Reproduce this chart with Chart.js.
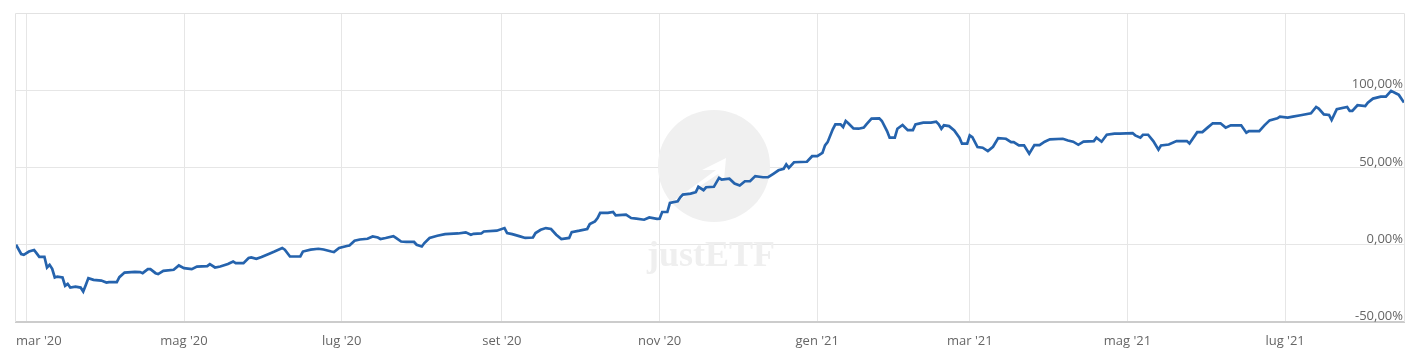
<!DOCTYPE html>
<html>
<head>
<meta charset="utf-8">
<script src="https://cdn.jsdelivr.net/npm/chart.js@4.4.1/dist/chart.umd.min.js"></script>
<style>
  html, body { margin: 0; padding: 0; background: #fff; }
  #wrap { width: 1420px; height: 359px; }
</style>
</head>
<body>
<div id="wrap"><canvas id="perfChart"></canvas></div>
<script>
// days since 1 Mar 2020
var days = [
    -4, -2, -1, 1, 3, 4, 5, 7, 8, 9, 10, 11, 12, 14, 15, 16, 17, 19, 21, 22, 23, 24, 26, 29, 31, 32, 35, 36, 38,
    42, 44, 45, 47, 48, 50, 51, 53, 57, 59, 61, 64, 66, 70, 71, 73, 75, 78, 80, 81, 84, 86, 87, 89, 91, 94, 96,
    99, 100, 102, 104, 106, 107, 110, 113, 115, 118, 119, 121, 124, 125, 127, 129, 132, 134, 136, 137, 139, 142,
    143, 145, 147, 150, 151, 153, 154, 156, 159, 162, 167, 170, 172, 173, 176, 177, 182, 185, 186, 188, 191, 193,
    196, 197, 199, 201, 203, 205, 207, 210, 211, 214, 217, 218, 220, 221, 222, 225, 227, 228, 232, 234, 236, 239,
    241, 244, 245, 246, 248, 249, 252, 253, 254, 257, 259, 260, 262, 263, 266, 268, 269, 272, 274, 276, 278, 280,
    282, 285, 287, 289, 291, 293, 294, 295, 297, 302, 304, 306, 308, 309, 310, 312, 313, 315, 316, 317, 318, 320,
    322, 324, 325, 327, 330, 331, 333, 334, 336, 337, 339, 341, 343, 344, 347, 350, 352, 353, 354, 355, 357, 359,
    361, 362, 364, 365, 366, 368, 370, 372, 374, 376, 379, 381, 382, 384, 386, 388, 390, 392, 394, 396, 401, 403,
    405, 407, 409, 413, 414, 416, 418, 421, 423, 428, 429, 431, 432, 434, 436, 438, 439, 442, 445, 449, 450, 453,
    455, 457, 459, 462, 464, 466, 470, 472, 473, 477, 479, 481, 484, 485, 488, 490, 493, 497, 499, 500, 502, 504,
    505, 507, 511, 512, 513, 515, 518, 519, 521, 524, 526, 528, 530, 531, 533
];
var values = [
    0, -6.0, -6.5, -4.4, -3.4, -5.6, -7.8, -7.8, -14.7, -13.0, -15.6, -21.2, -20.6, -21.2, -26.6, -25.3, -27.7, -27.1, -27.7, -30.3, -26.0, -21.6, -22.7, -23.2, -24.5, -24.2, -24.2, -21.0, -18.0,
    -17.5, -17.7, -18.4, -15.8, -15.8, -18.4, -19.0, -16.9, -16.2, -13.4, -15.1, -15.8, -14.1, -13.8, -12.5, -14.7, -14.1, -12.5, -10.8, -11.9, -11.9, -8.6, -8.2, -9.1, -8.0, -5.8, -4.4,
    -2.1, -3.2, -7.6, -7.6, -7.6, -4.4, -3.2, -2.6, -3.1, -4.4, -4.7, -2.1, -0.8, -0.5, 2.6, 3.4, 3.9, 5.4, 4.7, 3.7, 4.4, 5.6,
    4.4, 2.1, 1.8, 1.8, 0, -1.1, 1.1, 4.4, 5.8, 6.9, 7.3, 8.0, 6.5, 7.1, 7.3, 8.6, 9.1, 10.8, 7.6, 6.9, 5.4, 4.4,
    4.7, 7.6, 9.7, 10.8, 10.2, 6.5, 3.7, 4.4, 8.2, 9.1, 10.2, 13.4, 15.1, 17.3, 20.6, 20.6, 21.2, 19.0, 19.5, 17.3, 16.9, 16.2,
    17.7, 16.7, 16.9, 21.2, 21.2, 27.1, 28.1, 30.7, 32.5, 33.1, 34.0, 37.5, 35.3, 37.2, 37.5, 43.3, 42.2, 42.7, 39.6, 38.3, 41.1, 41.1,
    44.4, 43.7, 43.7, 45.9, 48.2, 49.2, 52.0, 49.8, 53.4, 53.7, 57.3, 57.3, 59.5, 64.3, 66.4, 74.7, 77.9, 77.9, 76.2, 80.1, 78.6, 75.3,
    75.1, 75.8, 77.9, 81.6, 81.8, 80.1, 73.6, 69.3, 69.3, 75.1, 77.5, 74.2, 74.2, 77.9, 79.0, 79.0, 79.7, 77.9, 75.1, 77.3, 76.8, 74.0,
    69.3, 65.4, 65.4, 70.8, 69.7, 63.2, 62.8, 60.6, 63.4, 69.0, 68.6, 66.4, 66.4, 64.3, 64.3, 58.9, 64.5, 64.5, 66.7, 68.2, 68.6, 67.5,
    66.7, 64.7, 66.7, 67.1, 69.3, 66.7, 71.2, 71.9, 71.9, 72.3, 70.8, 69.3, 71.2, 71.2, 67.1, 61.5, 64.3, 64.9, 67.1, 67.1, 65.6, 72.9,
    72.9, 75.8, 78.6, 78.6, 75.8, 77.3, 77.3, 72.5, 73.6, 73.6, 77.3, 80.5, 81.8, 82.9, 82.3, 82.9, 83.8, 85.1, 89.2, 88.1, 84.4, 84.0,
    80.7, 87.7, 89.2, 86.6, 86.6, 90.3, 89.8, 92.0, 94.6, 95.9, 95.9, 99.6, 97.9, 97.0, 92.0
];

// month ticks
var tickDays = [0, 61, 122, 184, 245, 306, 365, 426, 487];
var tickLabels = ["mar '20", "mag '20", "lug '20", "set '20", "nov '20", "gen '21", "mar '21", "mag '21", "lug '21"];
var yTicks = [-50, 0, 50, 100];

var points = days.map(function (d, i) { return { x: d, y: values[i] }; });

function fmtPct(v) {
    return v.toFixed(2).replace('.', ',') + '%';
}

// frame, watermark and axis labels
var decor = {
    id: 'decor',
    beforeDatasetsDraw: function (chart) {
        var ctx = chart.ctx;
        var a = chart.chartArea;
        ctx.save();
        // frame
        ctx.strokeStyle = '#e2e2e2';
        ctx.lineWidth = 1;
        ctx.beginPath();
        ctx.moveTo(a.left - 0.5, a.bottom);
        ctx.lineTo(a.left - 0.5, a.top + 0.5);
        ctx.lineTo(a.right + 0.5, a.top + 0.5);
        ctx.lineTo(a.right + 0.5, a.bottom);
        ctx.stroke();
        // watermark
        ctx.fillStyle = '#f0f0f0';
        ctx.beginPath();
        ctx.arc(714, 166, 56, 0, Math.PI * 2);
        ctx.fill();
        ctx.fillStyle = '#ffffff';
        ctx.beginPath();
        ctx.moveTo(650, 218);
        ctx.lineTo(716, 170);
        ctx.lineTo(702, 170);
        ctx.lineTo(726, 158);
        ctx.lineTo(724, 180);
        ctx.lineTo(718, 174);
        ctx.lineTo(656, 216);
        ctx.closePath();
        ctx.fill();
        ctx.fillStyle = '#efefef';
        ctx.font = 'bold 36px "Liberation Serif", "DejaVu Serif", serif';
        ctx.textAlign = 'center';
        ctx.textBaseline = 'alphabetic';
        ctx.fillText('justETF', 711, 266);
        ctx.restore();
    },
    afterDraw: function (chart) {
        var ctx = chart.ctx;
        var x = chart.scales.x;
        var y = chart.scales.y;
        var a = chart.chartArea;
        ctx.save();
        ctx.fillStyle = '#666666';
        ctx.font = '13px "Open Sans", sans-serif';
        // y labels sit inside the plot, above their grid line
        ctx.textAlign = 'right';
        ctx.textBaseline = 'bottom';
        yTicks.forEach(function (v) {
            ctx.fillText(fmtPct(v), a.right - 1, y.getPixelForValue(v) + 1);
        });
        // x labels centred on ticks, kept inside the plot width
        ctx.textAlign = 'left';
        ctx.textBaseline = 'middle';
        x.ticks.forEach(function (t) {
            var i = tickDays.indexOf(t.value);
            if (i < 0) return;
            var w = ctx.measureText(tickLabels[i]).width;
            var px = x.getPixelForValue(t.value) - w / 2;
            px = Math.max(a.left, Math.min(px, a.right - w));
            ctx.fillText(tickLabels[i], px, a.bottom + 19);
        });
        ctx.restore();
    }
};

new Chart("perfChart", {
    type: "line",
    data: {
        datasets: [{
            data: points,
            borderColor: "#2563ad",
            borderWidth: 2.7,
            pointRadius: 0,
            tension: 0,
            fill: false
        }]
    },
    options: {
        responsive: true,
        maintainAspectRatio: false,
        animation: false,
        layout: {
            padding: { left: 16, right: 16, top: 13, bottom: 0 }
        },
        plugins: {
            legend: { display: false },
            tooltip: { enabled: false }
        },
        scales: {
            x: {
                type: 'linear',
                min: -4,
                max: 533,
                afterBuildTicks: function (scale) {
                    scale.ticks = tickDays.map(function (d) { return { value: d }; });
                },
                afterFit: function (scale) {
                    scale.height = 37;
                    scale.paddingLeft = 0;
                    scale.paddingRight = 0;
                },
                grid: {
                    color: '#e6e6e6',
                    lineWidth: 1,
                    drawTicks: false
                },
                border: {
                    color: '#cccccc',
                    width: 2
                },
                ticks: {
                    display: false,
                    autoSkip: false,
                    maxRotation: 0
                }
            },
            y: {
                position: 'right',
                min: -50,
                max: 150,
                afterFit: function (scale) {
                    scale.width = 0;
                },
                ticks: {
                    stepSize: 50,
                    display: false
                },
                grid: {
                    color: '#e6e6e6',
                    lineWidth: 1,
                    drawTicks: false
                },
                border: { display: false }
            }
        }
    },
    plugins: [decor]
});
</script>
</body>
</html>
